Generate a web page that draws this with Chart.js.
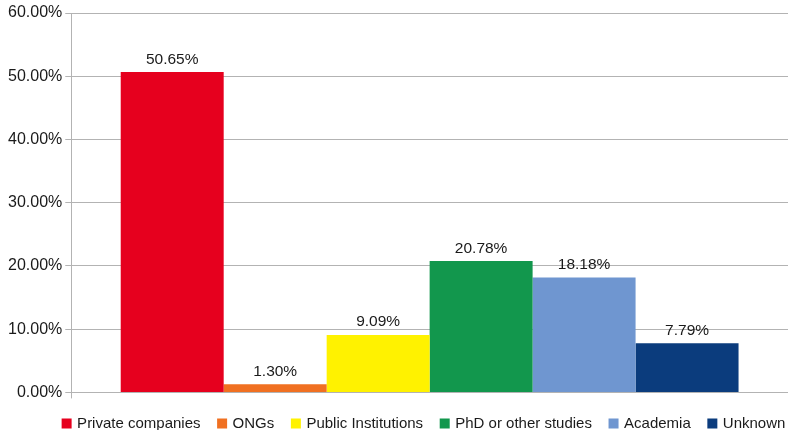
<!DOCTYPE html>
<html>
<head>
<meta charset="utf-8">
<script src="https://cdn.jsdelivr.net/npm/chart.js@4/dist/chart.umd.min.js"></script>
<style>
	html, body { margin: 0; padding: 0; background: #fff; }
	#wrap { width: 788px; height: 430px; }
</style>
</head>
<body>
<div id="wrap"><canvas id="myChart" width="788" height="430"></canvas></div>
<script>
"use strict";

/********/
/* data */
/********/
const groups = ["Private companies", "ONGs", "Public Institutions", "PhD or other studies", "Academia", "Unknown"];
const shares = [50.65, 1.30, 9.09, 20.78, 18.18, 7.79];
const colours = ["#e6001e", "#f07021", "#fff200", "#12974d", "#6f96d0", "#0b3c7d"];
const yTicks = [0, 10, 20, 30, 40, 50, 60];

/***********/
/* plugins */
/***********/
const barLabels = {
	id: "barLabels",
	afterDatasetsDraw(chart) {
		// write the percentage above each bar
		const ctx = chart.ctx;
		ctx.save();
		ctx.font = "15.5px 'Liberation Sans', Arial, sans-serif";
		ctx.fillStyle = "#1a1a1a";
		ctx.textAlign = "center";
		ctx.textBaseline = "bottom";
		chart.data.datasets.forEach((ds, i) => {
			const bar = chart.getDatasetMeta(i).data[0];
			ctx.fillText(ds.data[0].toFixed(2) + "%", bar.x, bar.y - 5);
		});
		ctx.restore();
	}
};

const legendShift = {
	id: "legendShift",
	afterLayout(chart) {
		// the legend sits under the plot area rather than the whole canvas
		chart.legend.left += 28;
		chart.legend.right += 28;
		chart.legend.top -= 1;
		chart.legend.bottom -= 1;
	}
};

/*********/
/* chart */
/*********/
function buildChart() {
	const ctx = document.getElementById("myChart").getContext("2d");
	const datasets = groups.map((name, i) => ({
		label: name,
		data: [shares[i]],
		backgroundColor: colours[i],
		borderWidth: 0,
		barPercentage: 1,
		categoryPercentage: 0.862
	}));
	new Chart(ctx, {
		type: "bar",
		data: { labels: [""], datasets: datasets },
		plugins: [barLabels, legendShift],
		options: {
			responsive: false,
			animation: false,
			layout: { padding: { left: 5, top: 13, right: 0, bottom: -12 } },
			plugins: {
				tooltip: { enabled: false },
				legend: {
					position: "bottom",
					labels: {
						usePointStyle: true,
						pointStyle: "rect",
						boxWidth: 6,
						boxHeight: 10,
						padding: 18.6,
						color: "#1a1a1a",
						font: { family: "'Liberation Sans', Arial, sans-serif", size: 15 }
					}
				}
			},
			scales: {
				x: {
					ticks: { display: false },
					grid: { offset: true, drawOnChartArea: false, color: "#b3b3b3", tickLength: 6 },
					border: { color: "#b3b3b3" }
				},
				y: {
					min: 0,
					max: 60,
					afterBuildTicks(scale) {
						scale.ticks = yTicks.map(v => ({ value: v }));
					},
					ticks: {
						padding: 3,
						color: "#1a1a1a",
						font: { family: "'Liberation Sans', Arial, sans-serif", size: 16 },
						callback: v => v.toFixed(2) + "%"
					},
					grid: { color: "#b3b3b3", tickLength: 6 },
					border: { color: "#b3b3b3" }
				}
			}
		}
	});
}

/********/
/* MAIN */
/********/
(function main() {
	buildChart();
})()
</script>
</body>
</html>
